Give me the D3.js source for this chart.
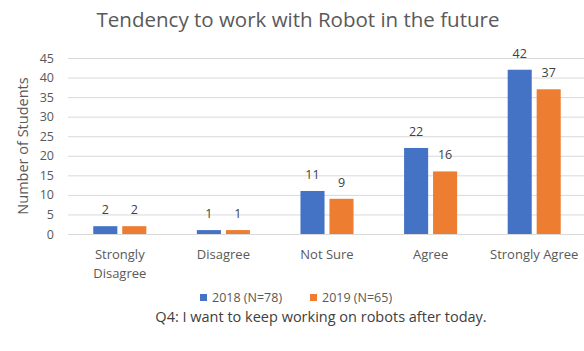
<!DOCTYPE html>
<html>
<head>
<meta charset="utf-8">
<script src="https://cdn.jsdelivr.net/npm/d3@7"></script>
<style>
  html, body { margin: 0; padding: 0; background: #fff; }
  svg { display: block; font-family: "Open Sans", Lato, sans-serif; }
</style>
</head>
<body>
<svg id="chart" width="584" height="351"></svg>
<script>
// Survey answers per category, one array per cohort
const categories = ["Strongly Disagree", "Disagree", "Not Sure", "Agree", "Strongly Agree"];
const categoryLines = [["Strongly", "Disagree"], ["Disagree"], ["Not Sure"], ["Agree"], ["Strongly Agree"]];
const seriesNames = ["2018 (N=78)", "2019 (N=65)"];
const values2018 = [2, 1, 11, 22, 42];
const values2019 = [2, 1, 9, 16, 37];
const yTicks = [0, 5, 10, 15, 20, 25, 30, 35, 40, 45];
const colors = ["#4472C4", "#ED7D31"];

const series = [values2018, values2019];
const svg = d3.select("#chart");
const font = "'Open Sans', Lato, sans-serif";

const plot = { left: 68, right: 586, top: 58, bottom: 234 };

const x0 = d3.scaleBand()
  .domain(categories)
  .range([plot.left, plot.right])
  .paddingInner(0.488)
  .paddingOuter(0.244);

const x1 = d3.scaleBand()
  .domain(seriesNames)
  .range([0, x0.bandwidth()])
  .paddingInner(0.17);

const y = d3.scaleLinear().domain([0, 45]).range([plot.bottom, plot.top]);

// Title
svg.append("text")
  .attr("x", 298).attr("y", 27)
  .attr("text-anchor", "middle")
  .attr("fill", "#595959")
  .attr("font-size", 20.5)
  .text("Tendency to work with Robot in the future");

// Gridlines
svg.append("g")
  .selectAll("line")
  .data(yTicks)
  .join("line")
  .attr("x1", plot.left).attr("x2", 584)
  .attr("y1", d => y(d) + 0.5).attr("y2", d => y(d) + 0.5)
  .attr("stroke", "#d9d9d9").attr("stroke-width", 1);

// Y axis tick labels
const yAxis = d3.axisLeft(y).tickValues(yTicks).tickSize(0).tickPadding(0);
const yg = svg.append("g")
  .attr("transform", `translate(${plot.left - 14},0)`)
  .call(yAxis);
yg.select(".domain").remove();
yg.selectAll("text")
  .attr("fill", "#595959")
  .attr("font-size", 12.5)
  .attr("font-family", font);

// Y axis title
svg.append("text")
  .attr("transform", `translate(23,${(plot.top + plot.bottom) / 2}) rotate(-90)`)
  .attr("text-anchor", "middle")
  .attr("dy", "0.35em")
  .attr("fill", "#595959")
  .attr("font-size", 14.5)
  .text("Number of Students");

// Bars and value labels
const groups = svg.append("g")
  .selectAll("g")
  .data(categories)
  .join("g")
  .attr("transform", d => `translate(${x0(d)},0)`);

seriesNames.forEach((name, si) => {
  groups.append("rect")
    .attr("x", x1(name))
    .attr("width", x1.bandwidth())
    .attr("y", (d, i) => y(series[si][i]))
    .attr("height", (d, i) => y(0) - y(series[si][i]))
    .attr("fill", colors[si]);

  groups.append("text")
    .attr("x", x1(name) + x1.bandwidth() / 2)
    .attr("y", (d, i) => y(series[si][i]) - 12)
    .attr("text-anchor", "middle")
    .attr("fill", "#404040")
    .attr("font-size", 12.5)
    .text((d, i) => series[si][i]);
});

// Category labels
const catLabels = svg.append("g")
  .selectAll("text")
  .data(categories)
  .join("text")
  .attr("x", d => x0(d) + x0.bandwidth() / 2)
  .attr("y", 259)
  .attr("text-anchor", "middle")
  .attr("fill", "#595959")
  .attr("font-size", 13);
catLabels.each(function(d, i) {
  d3.select(this).selectAll("tspan")
    .data(categoryLines[i])
    .join("tspan")
    .attr("x", x0(d) + x0.bandwidth() / 2)
    .attr("dy", (t, j) => j === 0 ? 0 : 19)
    .text(t => t);
});

// Legend
const legendItems = [{ x: 200, name: seriesNames[0], color: colors[0] }, { x: 310, name: seriesNames[1], color: colors[1] }];
const legend = svg.append("g").selectAll("g").data(legendItems).join("g")
  .attr("transform", d => `translate(${d.x},298)`);
legend.append("rect")
  .attr("x", 0).attr("y", -4).attr("width", 7).attr("height", 7)
  .attr("fill", d => d.color);
legend.append("text")
  .attr("x", 12).attr("y", 0).attr("dy", "0.35em")
  .attr("fill", "#595959")
  .attr("font-size", 12.5)
  .text(d => d.name);

// Caption
svg.append("text")
  .attr("x", 321).attr("y", 322)
  .attr("text-anchor", "middle")
  .attr("fill", "#404040")
  .attr("font-size", 14.5)
  .text("Q4: I want to keep working on robots after today.");
</script>
</body>
</html>
